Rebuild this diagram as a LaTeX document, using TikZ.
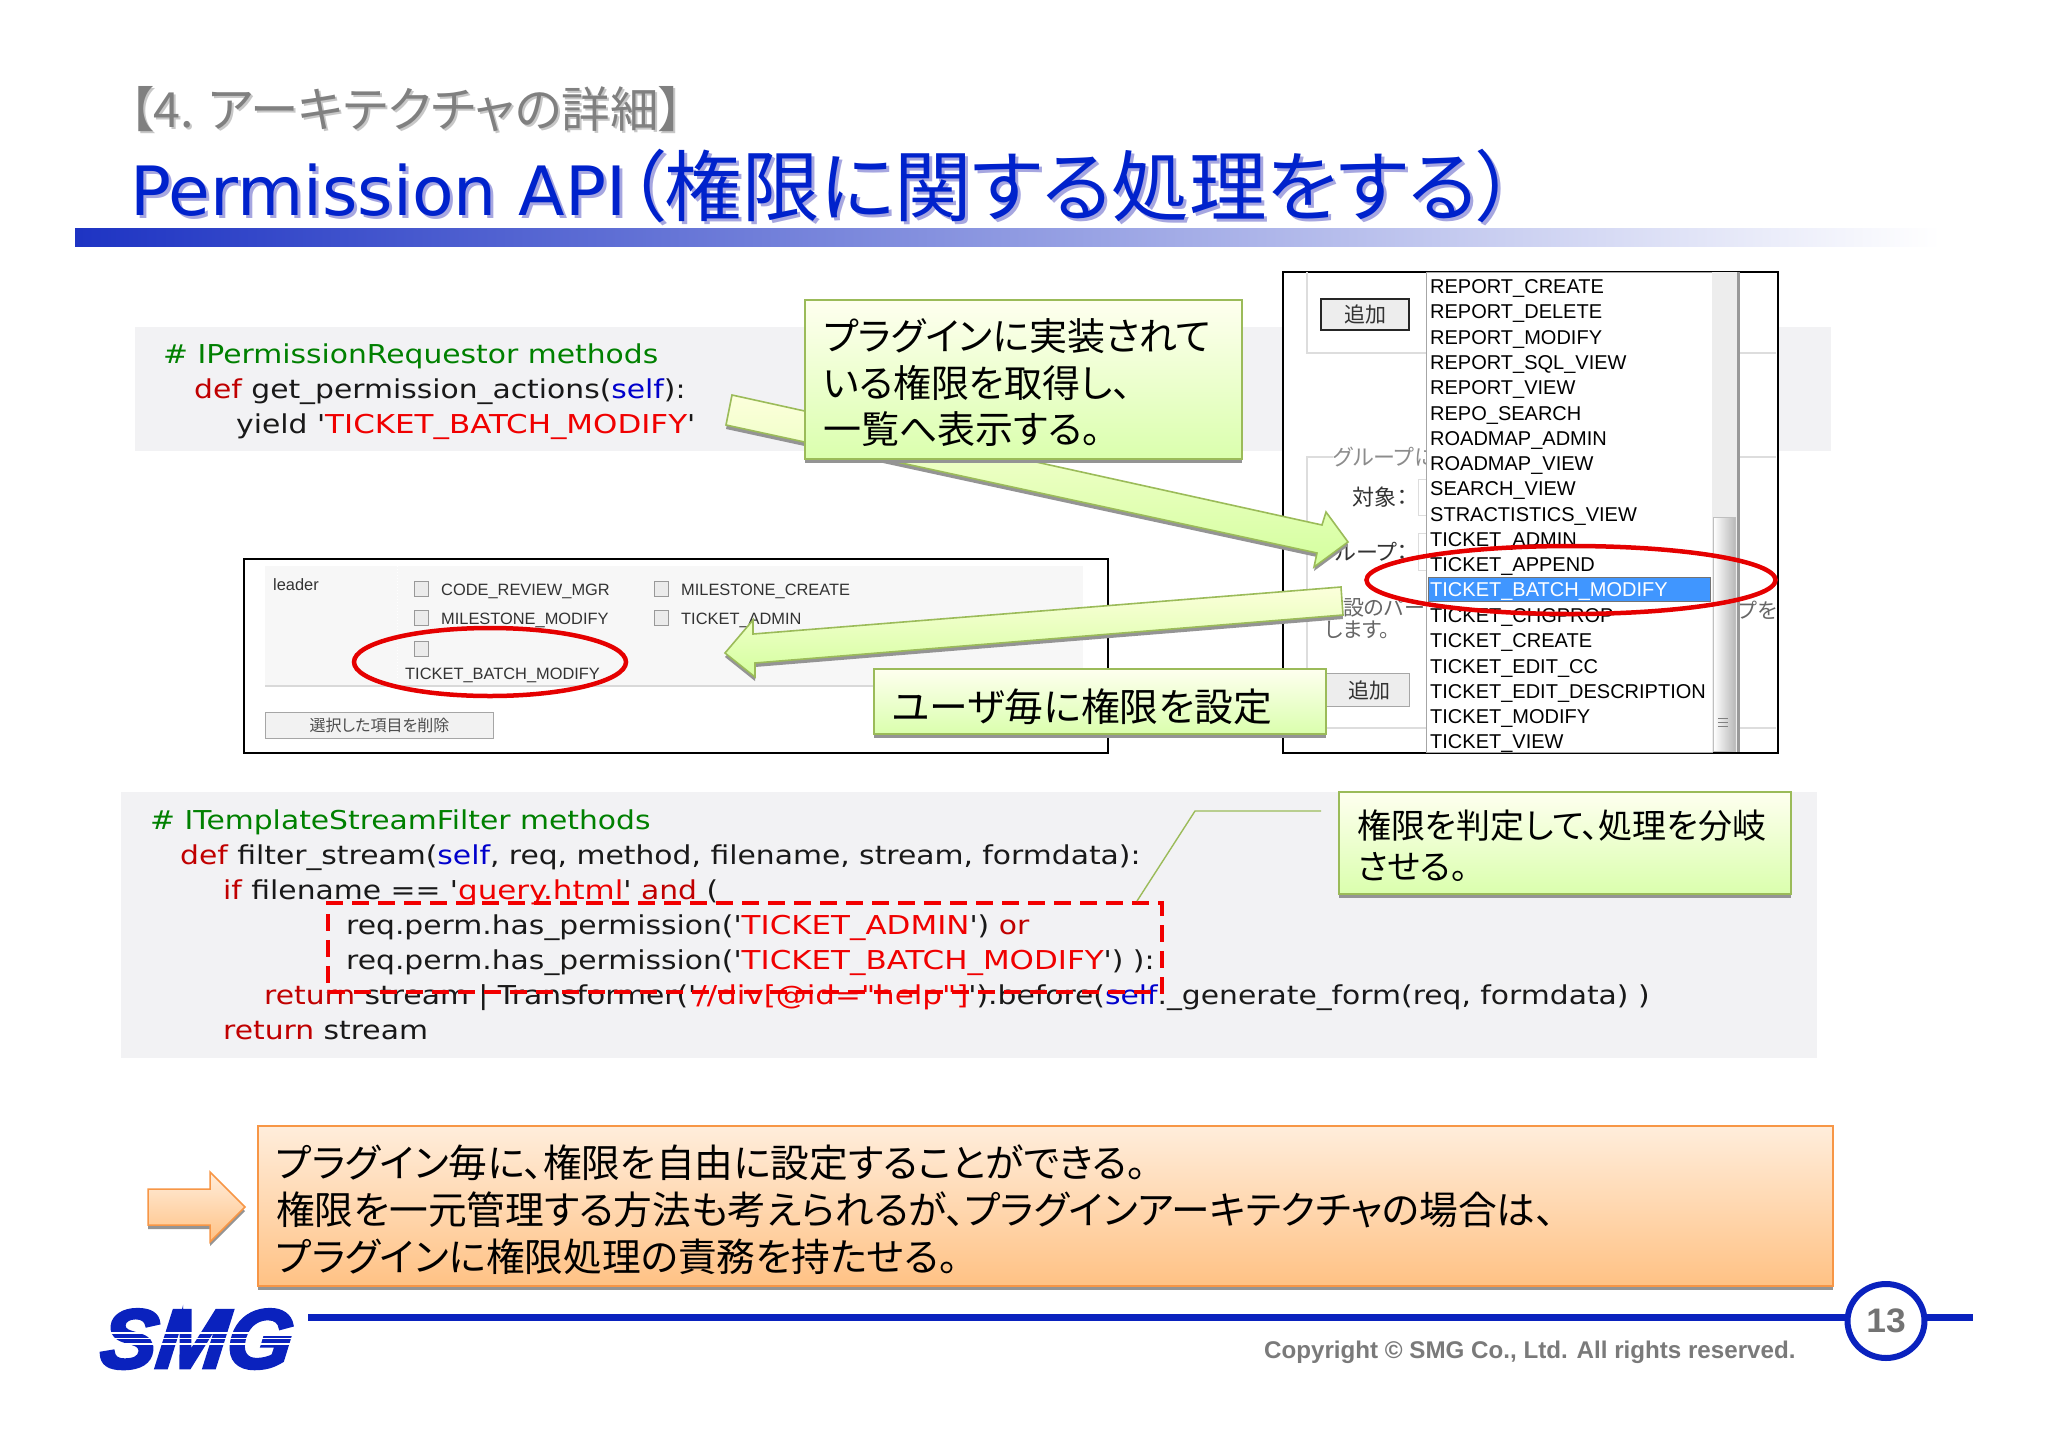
\documentclass[tikz,border=0pt]{standalone}
\usepackage{fontspec}
\usetikzlibrary{shapes.geometric,shadows}
\newfontfamily\jp[RawFeature=+palt]{Noto Sans CJK JP}
\newfontfamily\codef[FakeStretch=1.145]{DejaVu Sans}
\newfontfamily\strf[FakeStretch=1.19]{DejaVu Sans}
\newfontfamily\titlef{DejaVu Sans}
\newfontfamily\lib{Liberation Sans}
\newfontfamily\logof[BoldItalicFeatures={FakeBold=3.5,FakeSlant=0.12}]{Liberation Sans}
\definecolor{kwred}{HTML}{C00000}
\definecolor{strred}{HTML}{F00000}
\definecolor{selfblue}{HTML}{0000CC}
\definecolor{cmgreen}{HTML}{008000}
\definecolor{band}{HTML}{F2F2F4}
\definecolor{navy}{HTML}{0A22BE}
\definecolor{titleblue}{HTML}{0022CC}
\definecolor{greenline}{HTML}{9BBB59}
\definecolor{orangeline}{HTML}{F79646}
\definecolor{fieldline}{HTML}{DDDDDD}
\newcommand\fsz[2]{\fontsize{#1}{#2}\selectfont}
\newcommand\kw[1]{\textcolor{kwred}{#1}}
\newcommand\str[1]{\textcolor{strred}{\strf #1}}
\newcommand\slf[1]{\textcolor{selfblue}{#1}}
\newcommand\cm[1]{\textcolor{cmgreen}{#1}}
\newcommand\toprule[1]{\rule{0pt}{#1pt}}
\tikzset{
  codeline/.style={anchor=base west,inner sep=0pt,text=black!90,font=\codef\fsz{26}{35}},
  bandbox/.style={anchor=north west,inner sep=0pt,fill=band,draw=none},
  shotbox/.style={anchor=north west,inner sep=0pt,fill=white,draw=black,line width=1.6pt},
  notebox/.style={anchor=north west,inner ysep=0pt,draw=greenline,line width=1.6pt,top color=green!4!yellow!6!white,bottom color=green!45!yellow!32!white,
    align=left,text=black,general shadow={fill=black!42,shadow yshift=-4pt}},
  orangebox/.style={anchor=north west,inner ysep=0pt,draw=orangeline,line width=1.5pt,top color=orange!14!white,bottom color=orange!48!white,
    align=left,text=black,general shadow={fill=black!42,shadow yshift=-4pt}},
  blockgreen/.style={draw=greenline,line width=1.6pt,top color=green!8!yellow!14!white,bottom color=green!45!yellow!38!white,general shadow={fill=black!42,shadow yshift=-4pt}},
  blockorange/.style={draw=orangeline,line width=1.5pt,top color=orange!14!white,bottom color=orange!48!white,general shadow={fill=black!42,shadow yshift=-4pt}},
  redring/.style={ellipse,draw=red!90!black,line width=4.5pt,inner sep=0pt,fill=none},
  listitem/.style={anchor=base west,inner sep=0pt,text=black,font=\lib\fsz{20}{25}},
  shottext/.style={anchor=base west,inner sep=0pt,text=black!80,font=\lib\fsz{16.4}{20}},
  chk/.style={anchor=north west,inner sep=0pt,minimum width=14pt,minimum height=15pt,draw=black!40,fill=black!8,line width=0.8pt},
  uilabel/.style={inner sep=0pt,text=black!80,font=\jp\fsz{20}{24}},
  fieldrule/.style={draw=fieldline,line width=1.2pt},
}
\begin{document}
\begin{tikzpicture}[x=1pt,y=-1pt]
\useasboundingbox[fill=white] (0,0) rectangle (2048,1448);
% heading
\node[anchor=base west,inner sep=0pt,text=black!22,font=\jp\fsz{48.5}{48}] (secS) at (131,129) {【4. アーキテクチャの詳細】};
\node[anchor=base west,inner sep=0pt,text=black!50,font=\jp\fsz{48.5}{48}] (sec) at (129,127) {【4. アーキテクチャの詳細】};
\node[anchor=base west,inner sep=0pt,text=black!35!blue!35!white,font=\fsz{77.5}{78}] (ttlS) at (133,218) {{\titlef\fsz{68}{78}Permission API}{\jp（権限に関する処理をする）}};
\node[anchor=base west,inner sep=0pt,text=titleblue,font=\fsz{77.5}{78}] (ttl) at (130,215) {{\titlef\fsz{68}{78}Permission API}{\jp（権限に関する処理をする）}};
\node[anchor=north west,inner sep=0pt,minimum width=1865pt,minimum height=18pt,left color=navy!92!white,right color=white] (bar) at (75,228) {};
% code bands
\node[bandbox,minimum width=1696pt,minimum height=124pt] (band1) at (135,327) {};
\node[bandbox,minimum width=1696pt,minimum height=266pt] (band2) at (121,792) {};
% right screenshot
\node[shotbox,minimum width=495pt,minimum height=481pt] (shotR) at (1282,271) {};
\draw[fieldrule] (1307,272) -- (1307,353) -- (1426,353);
\draw[fieldrule] (1738,353) -- (1776,353);
\draw[fieldrule] (1333,457) -- (1307,457) -- (1307,728) -- (1776,728);
\draw[fieldrule] (1738,457) -- (1776,457);
\node[anchor=north west,inner sep=0pt,minimum width=88pt,minimum height=31pt,fill=black!7,draw=black!85,line width=2pt,font=\jp\fsz{21}{24},text=black!80] (add1) at (1320,298) {追加};
\node[anchor=north west,inner sep=0pt,minimum width=84pt,minimum height=33pt,fill=black!7,draw=black!35,line width=1.2pt,font=\jp\fsz{21}{24},text=black!80] (add2) at (1325,673) {\hspace*{3pt}追加};
\node[anchor=west,inner sep=0pt,text=black!45,font=\jp\fsz{22}{24},fill=white] (fs2) at (1333,457) {グループに};
\node[anchor=east,uilabel,font=\jp\fsz{22}{24}] (tg) at (1408,497) {対象：};
\node[anchor=east,uilabel,font=\jp\fsz{22}{24}] (gp) at (1408,552) {グループ：};
\node[anchor=north west,inner sep=0pt,minimum width=14pt,minimum height=36pt,draw=fieldline,line width=1pt] (in1) at (1418,479) {};
\node[anchor=north west,inner sep=0pt,minimum width=14pt,minimum height=37pt,draw=fieldline,line width=1pt] (in2) at (1418,533) {};
\node[anchor=west,uilabel,text=black!60,font=\jp\fsz{21}{24}] (h1) at (1343,608) {設のパー};
\node[anchor=west,uilabel,text=black!60,font=\jp\fsz{21}{24}] (h2) at (1325,630) {します。};
\node[anchor=west,uilabel,text=black!60,font=\jp\fsz{21}{24}] (h3) at (1738,610) {\hspace*{0pt}プを};
% list box
\node[anchor=north west,inner sep=0pt,minimum width=286pt,minimum height=480pt,fill=white,draw=black!35,line width=1pt] (list) at (1426,272) {};
\node[anchor=north west,inner sep=0pt,minimum width=26pt,minimum height=480pt,fill=black!7] (track) at (1712,272) {};
\draw[draw=black!40,line width=2.4pt] (track.north east) -- (track.south east);
\node[anchor=north west,inner sep=0pt,minimum width=22pt,minimum height=234pt,left color=white,right color=black!28,draw=black!25,line width=0.8pt] (thumb) at (1713,517) {};
\draw[black!50,line width=1pt] (1718,718) -- (1728,718) (1718,722) -- (1728,722) (1718,726) -- (1728,726);
\node[anchor=north west,inner sep=0pt,minimum width=282pt,minimum height=24pt,fill=blue!55!cyan!75!white,draw=black!55,line width=0.6pt] (sel) at (1428,577) {};
\foreach \t [count=\i from 0] in {REPORT\_CREATE,REPORT\_DELETE,REPORT\_MODIFY,REPORT\_SQL\_VIEW,REPORT\_VIEW,REPO\_SEARCH,ROADMAP\_ADMIN,ROADMAP\_VIEW,SEARCH\_VIEW,STRACTISTICS\_VIEW,TICKET\_ADMIN,TICKET\_APPEND}
  \node[listitem] (item\i) at (1430,{293.5+25.3*\i}) {\t};
\node[listitem,text=white] (item12) at (1430,596.9) {TICKET\_BATCH\_MODIFY};
\foreach \t [count=\i from 13] in {TICKET\_CHGPROP,TICKET\_CREATE,TICKET\_EDIT\_CC,TICKET\_EDIT\_DESCRIPTION,TICKET\_MODIFY,TICKET\_VIEW}
  \node[listitem] (item\i) at (1430,{293.5+25.3*\i}) {\t};
% left screenshot
\node[shotbox,minimum width=864pt,minimum height=194pt] (shotL) at (243,558) {};
\node[anchor=north west,inner sep=0pt,minimum width=818pt,minimum height=120pt,fill=black!3] (panel) at (265,566) {};
\draw[white,line width=1pt,dotted] (397,566) -- (397,686);
\draw[black!15,line width=1.2pt] (265,686) -- (1083,686);
\node[shottext] (lead) at (273,590) {leader};
\node[chk] (c1) at (414,581) {};
\node[shottext] (t1) at (441,595) {CODE\_REVIEW\_MGR};
\node[chk] (c2) at (654,581) {};
\node[shottext] (t2) at (681,595) {MILESTONE\_CREATE};
\node[chk] (c3) at (414,610) {};
\node[shottext] (t3) at (441,624) {MILESTONE\_MODIFY};
\node[chk] (c4) at (654,610) {};
\node[shottext] (t4) at (681,624) {TICKET\_ADMIN};
\node[chk] (c5) at (414,641) {};
\node[shottext] (t5) at (405,679) {TICKET\_BATCH\_MODIFY};
\node[anchor=north west,inner sep=0pt,minimum width=228pt,minimum height=26pt,fill=black!5,draw=black!35,line width=1pt,text=black!70,font=\jp\fsz{16}{20}] (del) at (265,712) {選択した項目を削除};
% block arrows
\path[blockgreen] (732,395) -- (1322,525) -- (1326,512) -- (1348,542) -- (1314,567) -- (1317,553) -- (726,425) -- cycle;
\path[blockgreen] (1341,587) -- (753,634) -- (753,620) -- (725,653) -- (755,677) -- (755,663) -- (1343,615) -- cycle;
\path[blockorange] (148,1189) -- (210,1189) -- (210,1172) -- (245,1207) -- (210,1242) -- (210,1225) -- (148,1225) -- cycle;
% callouts
\node[notebox,inner xsep=18.5pt,text width=400pt,minimum height=159pt,font=\jp\fsz{38}{46.5}] (note1) at (804,299) {\toprule{39}プラグインに実装されて\\いる権限を取得し、\\一覧へ表示する。};
\node[notebox,inner xsep=18.5pt,text width=415pt,minimum height=65pt,font=\jp\fsz{38.8}{46}] (note2) at (873,668) {\toprule{44}ユーザ毎に権限を設定};
\node[notebox,inner xsep=18.5pt,text width=415pt,minimum height=102pt,font=\jp\fsz{34}{40.5}] (note3) at (1338,791) {\toprule{34}権限を判定して、処理を分岐\\させる。};
\node[orangebox,inner xsep=18.5pt,text width=1538pt,minimum height=160pt,font=\jp\fsz{38.7}{47}] (concl) at (257,1125) {\toprule{41}プラグイン毎に、権限を自由に設定することができる。\\権限を一元管理する方法も考えられるが、プラグインアーキテクチャの場合は、\\プラグインに権限処理の責務を持たせる。};
% code 1
\node[codeline] (a1) at (163,363) {\cm{\# IPermissionRequestor methods}};
\node[codeline] (a2) at (194,398) {\kw{def} get\_permission\_actions(\slf{self}):};
\node[codeline] (a3) at (236,433) {yield '\str{TICKET\_BATCH\_MODIFY}'};
% code 2
\node[codeline] (b1) at (150,829) {\cm{\# ITemplateStreamFilter methods}};
\node[codeline] (b2) at (180,864) {\kw{def} filter\_stream(\slf{self}, req, method, filename, stream, formdata):};
\node[codeline] (b3) at (223,899) {\kw{if} filename == '\str{query.html}' \kw{and} (};
\node[codeline] (b4) at (346,934) {req.perm.has\_permission('\str{TICKET\_ADMIN}') \kw{or}};
\node[codeline] (b5) at (346,969) {req.perm.has\_permission('\str{TICKET\_BATCH\_MODIFY}') ):};
\node[codeline] (b6) at (264,1004) {\kw{return} stream | Transformer('\str{//div[@id="help"]}').before(\slf{self}.\_generate\_form(req, formdata) )};
\node[codeline] (b7) at (223,1039) {\kw{return} stream};
% highlights
\node[anchor=north west,inner sep=0pt,minimum width=834pt,minimum height=89pt,draw=red!95!black,line width=3.5pt,dash pattern=on 17pt off 9pt] (dashbox) at (326,901) {};
\coordinate (bend) at (1195,811);
\coordinate (lead3) at (1321,811);
\coordinate (leadS) at (1137,901);
\draw[greenline,line width=1.4pt] (leadS) -- (bend) -- (lead3);
\node[redring,minimum width=409pt,minimum height=68pt] (ringR) at (1571,580) {};
\node[redring,minimum width=272pt,minimum height=68pt] (ringL) at (490,662) {};
% footer
\draw[navy,line width=7pt] (308,1317.5) -- (1973,1317.5);
\node[circle,inner sep=0pt,minimum size=74pt,draw=navy,line width=6pt,fill=white,xscale=1.04,font=\lib\bfseries\fsz{34}{34},text=black!55] (page) at (1886,1321) {13};
\node[anchor=base west,inner sep=0pt,text=black!52,font=\lib\bfseries\fsz{24.15}{26}] (copy) at (1264,1358) {Copyright © SMG Co., Ltd. All rights reserved.};
\node[anchor=base,inner sep=0pt,text=navy,font=\logof\bfseries\itshape\fsz{84}{84}] (logo) at (194,1368) {SMG};
\draw[white,line width=1.4pt] (90,1333) -- (300,1333) (90,1338.5) -- (300,1338.5) (90,1344) -- (300,1344);
\end{tikzpicture}
\end{document}
